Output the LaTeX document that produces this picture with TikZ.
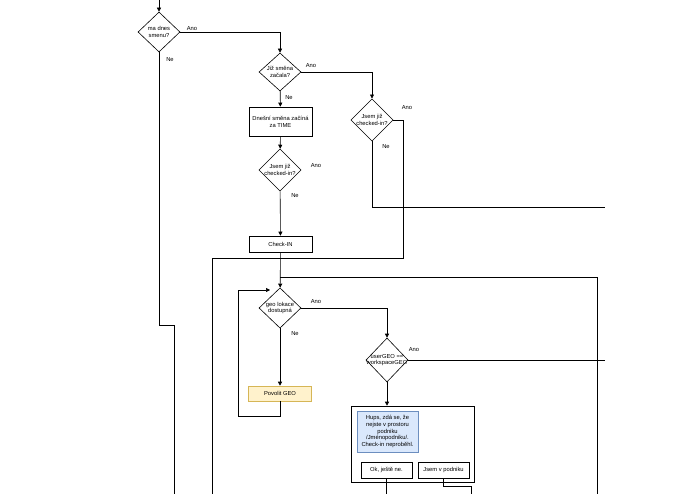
\documentclass[tikz,border=0pt]{standalone}
\usepackage{fontspec}
\setmainfont{Liberation Sans}
\usetikzlibrary{shapes.geometric, positioning, arrows.meta}

\definecolor{geofill}{HTML}{FFF2CC}
\definecolor{geoline}{HTML}{D6B656}
\definecolor{hupsfill}{HTML}{DAE8FC}
\definecolor{hupsline}{HTML}{6C8EBF}

\tikzset{
    dec/.style={diamond, draw, inner sep=0pt, minimum width=42pt, minimum height=40pt, align=center, font=\fontsize{5.8}{6.8}\selectfont},
    act/.style={rectangle, draw, minimum width=63pt, align=center, font=\fontsize{5.8}{6.8}\selectfont},
    lbl/.style={font=\fontsize{5.8}{6.8}\selectfont},
    flow/.style={-{Triangle[length=4pt,width=4pt]}},
}

\begin{document}
\begin{tikzpicture}[x=1pt, y=-1pt, line width=0.6pt]
    \useasboundingbox (0,0) rectangle (695,494);

    \coordinate (top) at (159,0);
    \node[dec] (smena) at (159,32) {ma dnes\\smenu?};
    \node[dec, minimum height=38pt] (zacala) at (280,72) {Již směna\\začala?};
    \node[dec] (chk1) at (372,120) {Jsem již\\checked-in?};
    \node[act, minimum height=29pt] (time) at (280.5,121.5) {Dnešní směna začíná\\za TIME};
    \node[dec] (chk2) at (280,170) {Jsem již\\checked-in?};
    \node[act, minimum height=16pt] (checkin) at (280.5,244) {Check-IN};
    \node[dec] (geo) at (280,308) {geo lokace\\dostupná};
    \node[act, minimum height=15pt, fill=geofill, draw=geoline] (povolit) at (280,393.5) {Povolit GEO};
    \node[dec, minimum height=44pt, label={[lbl, align=center]center:userGEO ==\\workspaceGEO}] (usergeo) at (387,360) {};

    % dialog
    \node[draw, minimum width=123pt, minimum height=76pt] (dialog) at (412.5,444) {};
    \node[draw=hupsline, fill=hupsfill, minimum width=61pt, minimum height=41pt, inner sep=1pt, align=center, font=\fontsize{5.8}{6.8}\selectfont] (hups) at (387.5,431.5) {Hups, zdá se, že\\nejste v prostoru\\podniku\\/Jménopodniku/.\\Check-in neproběhl.};
    \node[act, minimum width=51pt, minimum height=16pt] (ok) at (386.5,470) {Ok, ještě ne.};
    \node[act, minimum width=51pt, minimum height=16pt] (jsem) at (443.5,470) {Jsem v podniku};

    \draw[flow] (top) -- (smena);
    \draw[flow] (smena.east) -| (zacala.north);
    \draw (smena.south) -- (159,325) -- (174,325) -- (174,494);
    \draw[flow] (zacala.east) -| (chk1.north);
    \draw[flow] (zacala) -- (time);
    \draw[flow] (time) -- (chk2);
    \draw[flow] (chk2) -- (checkin);
    \draw (chk1.east) -- (403,120) -- (403,258) -- (212,258) -- (212,494);
    \draw (chk1.south) -- (372,207) -- (605,207);
    \draw[flow] (checkin) -- (geo);
    \draw (280,277) -- (597,277) -- (597,494);
    \draw[flow] (geo.east) -| (usergeo.north);
    \draw[flow] (geo) -- (povolit);
    \draw[flow] (povolit.south) -- (280,416) -- (238,416) -- (238,290) -- (270,290);
    \draw (usergeo.east) -- (605,360);
    \draw[flow] (usergeo.south) -- (usergeo.south |- dialog.north);
    \draw (ok) -- (386.5,494);
    \draw (jsem.south) -- (443.5,486) -- (471,486) -- (471,494);

    \node[lbl] at (192,29) {Ano};
    \node[lbl] at (170,60) {Ne};
    \node[lbl] at (311,66) {Ano};
    \node[lbl] at (289,98) {Ne};
    \node[lbl] at (407,108) {Ano};
    \node[lbl] at (386,147) {Ne};
    \node[lbl] at (316,166) {Ano};
    \node[lbl] at (295,196) {Ne};
    \node[lbl] at (316,302) {Ano};
    \node[lbl] at (295,334) {Ne};
    \node[lbl] at (414,350) {Ano};
\end{tikzpicture}
\end{document}
